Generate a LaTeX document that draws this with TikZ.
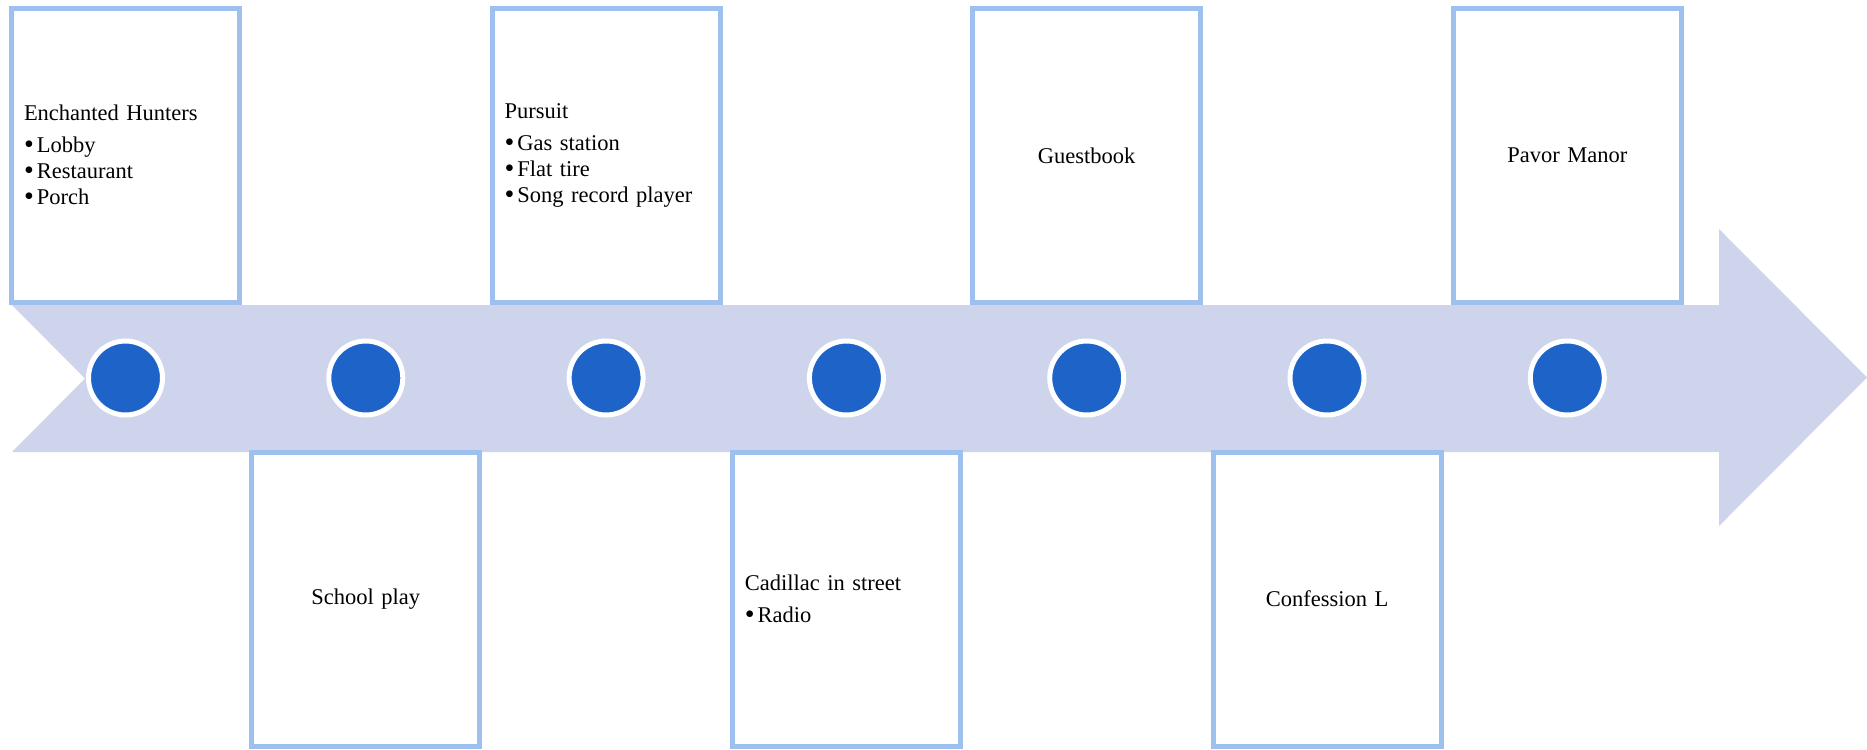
\documentclass[tikz,border=0pt]{standalone}
\usepackage{fontspec}
\setmainfont{Liberation Serif}
\definecolor{bandcol}{HTML}{CED4EC}
\definecolor{boxline}{HTML}{9DC0EE}
\definecolor{dotcol}{HTML}{1E64C8}
\newcommand{\bl}{\raisebox{-1pt}{\fontsize{28}{26}\selectfont\textbullet}\hspace{3pt}}
\begin{document}
\begin{tikzpicture}[x=1pt,y=-1pt,
  card/.style={rectangle, draw=boxline, line width=5pt, fill=white,
    minimum width=228pt, minimum height=294pt, inner xsep=12.5pt, inner ysep=0pt,
    text width=203pt, font=\fontsize{22.5}{26}\selectfont},
  cardl/.style={card, align=left},
  cardc/.style={card, align=center},
  dotnode/.style={circle, fill=dotcol, draw=white, line width=5pt,
    minimum size=74pt, inner sep=0pt}]
\useasboundingbox (0,0) rectangle (1867,749);
% arrow band
\fill[bandcol] (12,305) -- (1719,305) -- (1719,229) -- (1867,377.5) -- (1719,526)
  -- (1719,452) -- (12,452) -- (85,378.5) -- cycle;
% boxes
\node[cardl] (b1) at (125.5,155.5) {Enchanted Hunters\\[6pt]\bl Lobby\\\bl Restaurant\\\bl Porch};
\node[cardc] (b2) at (365.8,599) {School play};
\node[cardl] (b3) at (606.1,155.5) {Pursuit\\[6pt]\bl Gas station\\\bl Flat tire\\\bl Song record player};
\node[cardl] (b4) at (846.4,599) {Cadillac in street\\[6pt]\bl Radio};
\node[cardc] (b5) at (1086.7,155.5) {Guestbook};
\node[cardc] (b6) at (1327,599) {Confession L};
\node[cardc] (b7) at (1567.3,155.5) {Pavor Manor};
% dots
\foreach \i in {1,...,7} {
  \node[dotnode] (c\i) at ({125.5+240.3*(\i-1)},378) {};
}
\end{tikzpicture}
\end{document}
